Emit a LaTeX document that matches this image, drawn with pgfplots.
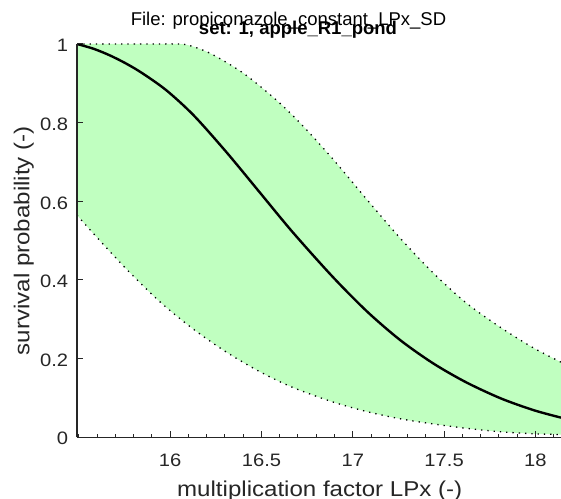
\documentclass[border=0pt]{standalone}
\usepackage{fontspec}
\setmainfont{Liberation Sans}
\newfontfamily\labfont[FakeStretch=1.12]{Liberation Sans}
\newfontfamily\tickfont[FakeStretch=1.12]{Liberation Sans}
\usepackage{pgfplots}
\pgfplotsset{compat=1.18}
\usepgfplotslibrary{fillbetween}
\definecolor{bandgreen}{RGB}{192,255,192}
\definecolor{axgray}{RGB}{38,38,38}
\begin{document}
\begin{tikzpicture}
\begin{axis}[
  at={(0,0)}, anchor=origin,
  scale only axis,
  width=484bp, height=393.3bp,
  xmin=15.49, xmax=18.14, ymin=0, ymax=1,
  set layers, axis on top,
  axis x line*=bottom, axis y line*=left,
  axis line style={axgray, line width=1.3bp, -},
  every tick/.style={axgray, line width=1bp},
  tick align=inside,
  major tick length=6bp, minor tick length=3.5bp,
  xtick={16,16.5,17,17.5,18},
  minor xtick={15.5,15.6,...,18.1},
  ytick={0,0.2,0.4,0.6,0.8,1},
  /pgf/number format/assume math mode=true,
  /pgf/number format/fixed,
  xticklabel style={font=\tickfont\fontsize{18bp}{20bp}\selectfont, text=axgray, anchor=base, inner sep=0pt, yshift=-28.7bp},
  yticklabel style={font=\tickfont\fontsize{18bp}{20bp}\selectfont, text=axgray, anchor=east, inner sep=0pt, xshift=-8.7bp, yshift=-1.5bp},
]
% upper bound
\addplot[name path=up, black, line width=1.3bp, dash pattern=on 1.3bp off 5bp, smooth] coordinates {
  (15.49,1) (15.8,1) (16.0,1) (16.09,0.998) (16.22,0.976) (16.40,0.926)
  (16.58,0.858) (16.72,0.795) (16.89,0.708) (17.08,0.603) (17.26,0.506)
  (17.44,0.418) (17.62,0.342) (17.81,0.279) (17.99,0.227) (18.14,0.191)
};
% lower bound
\addplot[name path=lo, black, line width=1.3bp, dash pattern=on 1.3bp off 5bp, smooth] coordinates {
  (15.49,0.565) (15.58,0.518) (15.76,0.428) (15.95,0.342) (16.13,0.274)
  (16.31,0.216) (16.49,0.167) (16.67,0.127) (16.89,0.090) (17.08,0.065)
  (17.26,0.047) (17.44,0.034) (17.62,0.023) (17.81,0.014) (17.99,0.009)
  (18.14,0.007)
};
\addplot[bandgreen, draw=none] fill between[of=up and lo];
% median
\addplot[black, line width=2.4bp, smooth] coordinates {
  (15.49,1.0) (15.58,0.988) (15.67,0.971) (15.76,0.950) (15.85,0.925)
  (15.98,0.882) (16.13,0.818) (16.31,0.724) (16.49,0.623) (16.67,0.522)
  (16.89,0.408) (17.08,0.319) (17.26,0.247) (17.44,0.188) (17.62,0.140)
  (17.81,0.099) (17.99,0.069) (18.14,0.050)
};
\end{axis}
\node[anchor=base, text=axgray, font=\labfont\fontsize{21.5bp}{24bp}\selectfont, inner sep=0pt]
  at (242.7bp,-58.8bp) {multiplication factor LPx (-)};
\node[anchor=base, rotate=90, text=axgray, font=\labfont\fontsize{21.5bp}{24bp}\selectfont, inner sep=0pt]
  at (-47.5bp,196.6bp) {survival probability (-)};
\node[anchor=base, font=\fontsize{18.5bp}{20bp}\selectfont, inner sep=0pt]
  at (211.5bp,411.3bp) {File: propiconazole\_constant\_LPx\_SD};
\node[anchor=base, font=\bfseries\fontsize{18.5bp}{20bp}\selectfont, inner sep=0pt]
  at (221bp,402.3bp) {set: 1, apple\_R1\_pond};
\pgfresetboundingbox
\path[use as bounding box] (-77bp,-61.7bp) rectangle (484bp,437.3bp);
\end{tikzpicture}
\end{document}
